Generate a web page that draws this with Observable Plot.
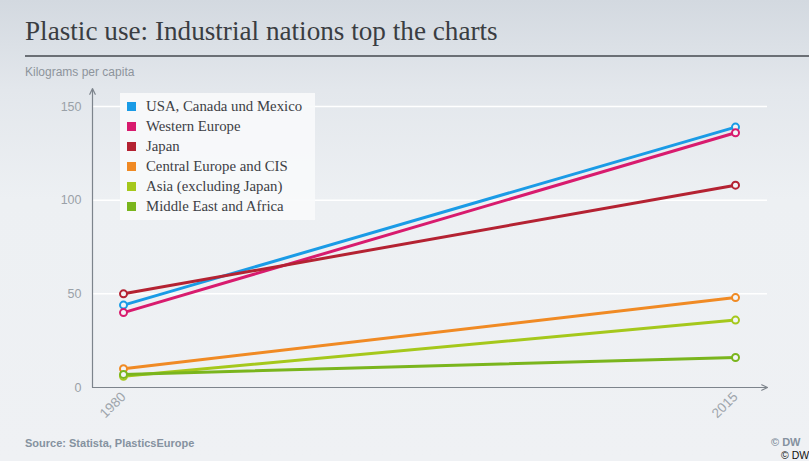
<!DOCTYPE html>
<html>
<head>
<meta charset="utf-8">
<script src="https://cdn.jsdelivr.net/npm/d3@7"></script>
<script src="https://cdn.jsdelivr.net/npm/@observablehq/plot@0.6"></script>
<style>
  html, body { margin: 0; padding: 0; }
  #wrap {
    position: relative; width: 809px; height: 461px; overflow: hidden;
    background: linear-gradient(to bottom, #d3d9e0 0px, #e3e7ec 90px, #edf0f3 200px, #eff1f4 461px);
    font-family: "Liberation Sans", Arial, sans-serif;
  }
  #title {
    position: absolute; left: 25px; top: 16px;
    font-family: "Liberation Serif", "DejaVu Serif", serif;
    font-size: 27.2px; color: #3a3d42; white-space: nowrap;
  }
  #rule { position: absolute; left: 25px; right: 0; top: 55px; height: 2px; background: #6b6f75; }
  #unit { position: absolute; left: 25px; top: 65px; font-size: 12px; color: #8d949c; white-space: nowrap; }
  #legend {
    position: absolute; left: 120px; top: 93px; width: 195px; height: 127px;
    background: rgba(248,249,251,0.9); box-sizing: border-box; padding: 3px 0 0 7px;
    font-family: "Liberation Serif", "DejaVu Serif", serif; font-size: 14.8px; color: #3d4045;
  }
  #legend .item { height: 20px; line-height: 20px; white-space: nowrap; }
  #legend .sw { display: inline-block; width: 9px; height: 9px; margin-right: 10px; vertical-align: 0px; }
  #source { position: absolute; left: 25px; top: 437px; font-size: 11px; font-weight: bold; color: #8592a0; white-space: nowrap; }
  #dw1 { position: absolute; left: 771px; top: 436px; font-size: 11px; font-weight: bold; color: #8592a0; white-space: nowrap; line-height: 12px; }
  #dw2 { position: absolute; left: 781px; top: 449px; font-size: 10.5px; color: #111; white-space: nowrap; line-height: 12px; }
  #chart { position: absolute; left: 0; top: 0; }
</style>
</head>
<body>
<div id="wrap">
  <div id="chart"></div>
  <div id="title">Plastic use: Industrial nations top the charts</div>
  <div id="rule"></div>
  <div id="unit">Kilograms per capita</div>
  <div id="legend"></div>
  <div id="source">Source: Statista, PlasticsEurope</div>
  <div id="dw1">© DW</div>
  <div id="dw2">© DW</div>
</div>
<script>
const years = [1980, 2015];
const series = ["USA, Canada und Mexico", "Western Europe", "Japan", "Central Europe and CIS", "Asia (excluding Japan)", "Middle East and Africa"];
const colors = ["#1a9be6", "#d81b6e", "#b42232", "#f08a24", "#a5c81c", "#7ab51d"];
const values1980 = [44, 40, 50, 10, 6, 7];
const values2015 = [139, 136, 108, 48, 36, 16];
const yTicks = [0, 50, 100, 150];
const yGrid = [50, 100, 150];

const data = [];
series.forEach((s, i) => {
  data.push({series: s, year: years[0], value: values1980[i]});
  data.push({series: s, year: years[1], value: values2015[i]});
});

// plot area geometry
const W = 809, H = 461;
const mL = 92, mR = 42, mT = 88, mB = 74;
// x: 1980 at 123px, 2015 at 735px
const xPerPx = (years[1] - years[0]) / (735 - 123);
const xDomain = [years[0] - (123 - mL) * xPerPx, years[1] + (W - mR - 735) * xPerPx];
// y: 0 at 387px, 150 at 106px
const yPerPx = 150 / (387 - 106);
const yDomain = [0, 150 + (106 - mT) * yPerPx];

const chart = Plot.plot({
  width: W, height: H,
  marginLeft: mL, marginRight: mR, marginTop: mT, marginBottom: mB,
  style: {background: "transparent", fontFamily: "Liberation Sans, Arial, sans-serif", fontSize: "12px"},
  x: {domain: xDomain},
  y: {domain: yDomain},
  color: {domain: series, range: colors},
  marks: [
    Plot.gridY(yGrid, {stroke: "#ffffff", strokeOpacity: 1, strokeWidth: 1.5}),
    Plot.axisY(yTicks, {tickSize: 0, tickPadding: 11, fill: "#9aa1a8", fontSize: 12.5, label: null}),
    Plot.axisX(years, {tickSize: 0, tickPadding: 7, tickRotate: -45, tickFormat: d => String(d), fill: "#9ea5ac", fontSize: 13.5, label: null}),
    Plot.arrow([0], {x1: xDomain[0], y1: 0, x2: xDomain[0], y2: yDomain[1], stroke: "#7d848c", strokeWidth: 1.2, headLength: 8, headAngle: 50, insetStart: 0, insetEnd: 0}),
    Plot.arrow([0], {x1: xDomain[0], y1: 0, x2: xDomain[1], y2: 0, stroke: "#7d848c", strokeWidth: 1.2, headLength: 8, headAngle: 50, insetStart: 0, insetEnd: 0}),
    Plot.line(data, {x: "year", y: "value", z: "series", stroke: "series", strokeWidth: 3}),
    Plot.dot(data, {x: "year", y: "value", stroke: "series", fill: "#f2f4f6", r: 3.5, strokeWidth: 2})
  ]
});
document.getElementById("chart").appendChild(chart);

const legend = document.getElementById("legend");
series.forEach((s, i) => {
  const row = document.createElement("div");
  row.className = "item";
  const sw = document.createElement("span");
  sw.className = "sw";
  sw.style.background = colors[i];
  row.appendChild(sw);
  row.appendChild(document.createTextNode(s));
  legend.appendChild(row);
});
</script>
</body>
</html>
